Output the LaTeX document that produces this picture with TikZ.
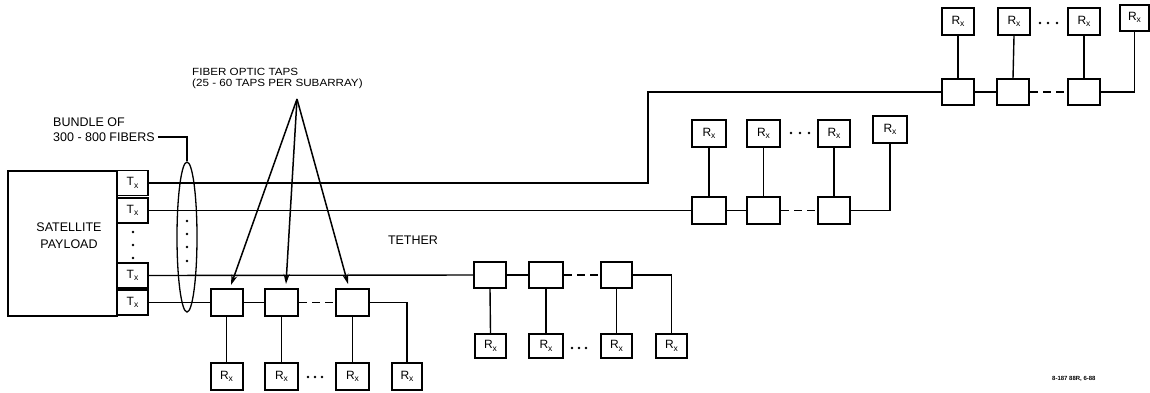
\documentclass[tikz,border=0pt]{standalone}
\usepackage{fontspec}
\setmainfont{Liberation Sans}
\newfontfamily\widefont[FakeStretch=1.12]{Liberation Sans}
\usetikzlibrary{arrows.meta,shapes.geometric}
\newcommand\subx[1]{\raisebox{-2.5pt}{\fontsize{8.5}{9}\selectfont #1}}
\begin{document}
\begin{tikzpicture}[x=1pt,y=-1pt,
  box/.style={draw,line width=2pt,inner sep=0pt,minimum width=32pt,minimum height=26pt},
  txbox/.style={draw,line width=1.6pt,inner sep=0pt,minimum width=31pt,minimum height=25pt,font=\fontsize{12}{13}\selectfont},
  rxbox/.style={box,font=\fontsize{12}{13}\selectfont},
  wire/.style={line width=1.4pt},
  dashwire/.style={wire,dash pattern=on 8pt off 5pt},
  lab/.style={font=\fontsize{12.5}{17}\selectfont,inner sep=0pt},
  tapline/.style={line width=1.5pt,-{Stealth[length=10pt,width=6pt]}},
  dot/.style={circle,fill,inner sep=0pt,minimum size=2.8pt}]
\useasboundingbox (0,0) rectangle (1150,392);

% satellite payload
\node[draw,line width=1.6pt,minimum width=109pt,minimum height=145pt,inner sep=0pt] (sat) at (62.5,243.5) {};
\node[lab,align=center] (satlab) at (69,236) {SATELLITE\\PAYLOAD};
\node[txbox] (tx1) at (132.5,183) {T\subx{x}};
\node[txbox] (tx2) at (132.5,210.5) {T\subx{x}};
\node[txbox] (tx3) at (132.5,275.5) {T\subx{x}};
\node[txbox] (tx4) at (132.5,302.5) {T\subx{x}};
\node[dot] (td1) at (133,232) {};
\node[dot] (td2) at (133,245) {};
\node[dot] (td3) at (133,258) {};

% bundle
\node[draw,ellipse,line width=1.3pt,minimum width=20pt,minimum height=150pt,inner sep=0pt] (bundle) at (187,237) {};
\node[dot] (bd1) at (187,221) {};
\node[dot] (bd2) at (187,234) {};
\node[dot] (bd3) at (187,247) {};
\node[dot] (bd4) at (187,261) {};
\node[lab,anchor=west] (bl1) at (53,122) {BUNDLE OF};
\node[lab,anchor=west] (bl2) at (53,137) {300 - 800 FIBERS};
\draw[wire] ([xshift=3pt]bl2.east) -| (bundle.north);

% fiber optic taps label
\node[inner sep=0pt,anchor=west,font=\widefont\fontsize{10.4}{12}\selectfont] (fl1) at (192,72) {FIBER OPTIC TAPS};
\node[inner sep=0pt,anchor=west,font=\widefont\fontsize{10.4}{12}\selectfont] (fl2) at (192,84) {(25 - 60 TAPS PER SUBARRAY)};

\node[lab] (tether) at (413,240) {TETHER};
\node[inner sep=0pt,anchor=west,font=\bfseries\fontsize{6}{7}\selectfont] (code) at (1052,379) {8-187 88R, 6-88};

% bottom chain
\node[box,minimum height=27pt] (b1) at (226.5,302.5) {};
\node[box,minimum height=27pt,minimum width=33pt] (b2) at (281.5,302.5) {};
\node[box,minimum height=27pt,minimum width=33pt] (b3) at (352.5,302.5) {};
\node[rxbox,minimum height=27pt] (br1) at (226.5,376.5) {R\subx{x}};
\node[rxbox,minimum height=27pt,minimum width=33pt] (br2) at (281.5,376.5) {R\subx{x}};
\node[rxbox,minimum height=27pt,minimum width=33pt] (br3) at (352.5,376.5) {R\subx{x}};
\node[rxbox,minimum height=27pt,minimum width=30pt] (br4) at (407,376.5) {R\subx{x}};
\node[dot] (bdt1) at (308,377) {};
\node[dot] (bdt2) at (315,377) {};
\node[dot] (bdt3) at (322,377) {};
\draw[wire] (tx4.east) -- (b1.west);
\draw[wire] (b1.east) -- (b2.west);
\draw[dashwire] (b2.east) -- (b3.west);
\draw[wire] (b3.east) -| (br4.north);
\draw[wire] (b1.south) -- (br1.north);
\draw[wire] (b2.south) -- (br2.north);
\draw[wire] (b3.south) -- (br3.north);

% middle chain
\node[box] (m1) at (490,275) {};
\node[box,minimum width=34pt] (m2) at (546,275) {};
\node[box,minimum width=31pt] (m3) at (616.5,275) {};
\node[rxbox,minimum height=24pt,minimum width=31pt] (mr1) at (490.5,346) {R\subx{x}};
\node[rxbox,minimum height=24pt,minimum width=34pt] (mr2) at (546,346) {R\subx{x}};
\node[rxbox,minimum height=24pt,minimum width=31pt] (mr3) at (616.5,346) {R\subx{x}};
\node[rxbox,minimum height=24pt,minimum width=31pt] (mr4) at (671.5,346) {R\subx{x}};
\node[dot] (mdt1) at (572,348) {};
\node[dot] (mdt2) at (579,348) {};
\node[dot] (mdt3) at (586,348) {};
\draw[wire] (tx3.east) -- (m1.west);
\draw[wire] (m1.east) -- (m2.west);
\draw[dashwire] (m2.east) -- (m3.west);
\draw[wire] (m3.east) -| (mr4.north);
\draw[wire] (m1.south) -- (mr1.north);
\draw[wire] (m2.south) -- (mr2.north);
\draw[wire] (m3.south) -- (mr3.north);

% upper chain
\node[box,minimum height=27pt,minimum width=34pt] (u1) at (709,210.5) {};
\node[box,minimum height=27pt,minimum width=33pt] (u2) at (763.5,210.5) {};
\node[box,minimum height=27pt,minimum width=32pt] (u3) at (834,210.5) {};
\node[rxbox,minimum height=27pt,minimum width=34pt] (ur1) at (709,133.5) {R\subx{x}};
\node[rxbox,minimum height=27pt,minimum width=33pt] (ur2) at (763.5,133.5) {R\subx{x}};
\node[rxbox,minimum height=27pt,minimum width=32pt] (ur3) at (834,133.5) {R\subx{x}};
\node[rxbox,minimum height=27pt,minimum width=34pt] (ur4) at (890,129.5) {R\subx{x}};
\node[dot] (udt1) at (791,133) {};
\node[dot] (udt2) at (800,133) {};
\node[dot] (udt3) at (809,133) {};
\draw[wire] (tx2.east) -- (u1.west);
\draw[wire] (u1.east) -- (u2.west);
\draw[dashwire] (u2.east) -- (u3.west);
\draw[wire] (u3.east) -| (ur4.south);
\draw[wire] (u1.north) -- (ur1.south);
\draw[wire] (u2.north) -- (ur2.south);
\draw[wire] (u3.north) -- (ur3.south);

% top chain
\node[box] (t1) at (958,92) {};
\node[box] (t2) at (1013,92) {};
\node[box] (t3) at (1084,92) {};
\node[rxbox,minimum height=27pt] (tr1) at (958,21.5) {R\subx{x}};
\node[rxbox,minimum height=27pt] (tr2) at (1014,21.5) {R\subx{x}};
\node[rxbox,minimum height=27pt] (tr3) at (1084,21.5) {R\subx{x}};
\node[rxbox,minimum height=26pt,minimum width=29pt] (tr4) at (1134.5,17.5) {R\subx{x}};
\node[dot] (tdt1) at (1040,23) {};
\node[dot] (tdt2) at (1048,23) {};
\node[dot] (tdt3) at (1057,23) {};
\coordinate (bend) at (648,183);
\draw[wire] (tx1.east) -- (bend) |- (t1.west);
\draw[wire] (t1.east) -- (t2.west);
\draw[dashwire] (t2.east) -- (t3.west);
\draw[wire] (t3.east) -| (tr4.south);
\draw[wire] (t1.north) -- (tr1.south);
\draw[wire] (t2.north) -- (tr2.south);
\draw[wire] (t3.north) -- (tr3.south);

% tap arrows
\coordinate (apex) at (297,99);
\coordinate (tip1) at (231,285);
\coordinate (tip2) at (286,284);
\coordinate (tip3) at (348,284);
\draw[tapline] (apex) -- (tip1);
\draw[tapline] (apex) -- (tip2);
\draw[tapline] (apex) -- (tip3);
\end{tikzpicture}
\end{document}
